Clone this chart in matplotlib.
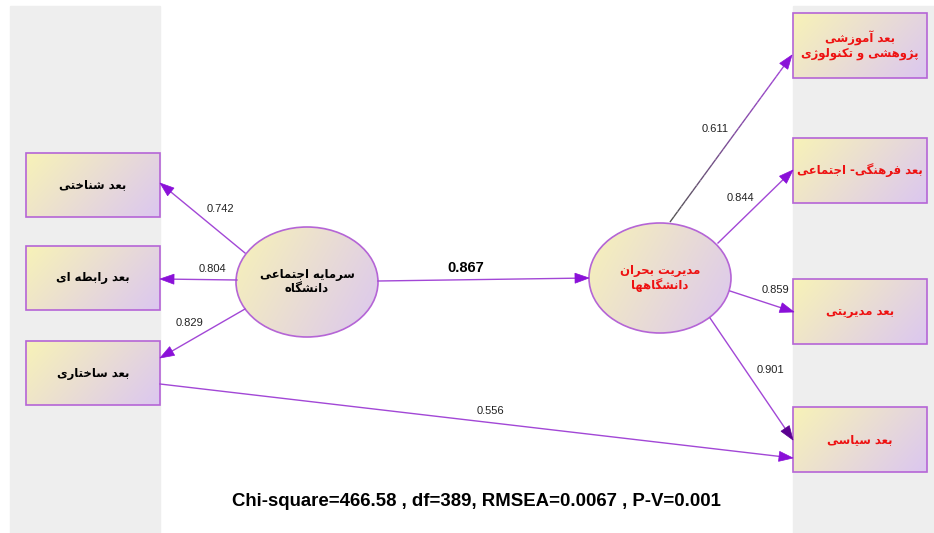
import numpy as np
import matplotlib
matplotlib.use('Agg')
import matplotlib.pyplot as plt
from matplotlib import font_manager
from matplotlib.patches import Rectangle, Ellipse, Polygon
from matplotlib.collections import LineCollection

# ---- data ----
left_items = ['بعد شناختی', 'بعد رابطه ای', 'بعد ساختاری']
left_loadings = [0.742, 0.804, 0.829]
right_items = ['بعد آموزشی\nپژوهشی و تکنولوژی', 'بعد فرهنگی- اجتماعی',
               'بعد مدیریتی', 'بعد سیاسی']
right_loadings = [0.611, 0.844, 0.859, 0.901]
latent_names = ['سرمایه اجتماعی\nدانشگاه', 'مدیریت بحران\nدانشگاهها']
path_coef = 0.867
cross_coef = 0.556
chi_square = 466.58
dof = 389
rmsea = 0.0067
p_value = 0.001

# ---- simple persian shaping (matplotlib has no bidi / joining) ----
# isolated, final, initial, medial
FORMS = {
    'ا': ('\uFE8D', '\uFE8E', None, None),
    'آ': ('\uFE81', '\uFE82', None, None),
    'ب': ('\uFE8F', '\uFE90', '\uFE91', '\uFE92'),
    'ت': ('\uFE95', '\uFE96', '\uFE97', '\uFE98'),
    'ج': ('\uFE9D', '\uFE9E', '\uFE9F', '\uFEA0'),
    'ح': ('\uFEA1', '\uFEA2', '\uFEA3', '\uFEA4'),
    'خ': ('\uFEA5', '\uFEA6', '\uFEA7', '\uFEA8'),
    'د': ('\uFEA9', '\uFEAA', None, None),
    'ر': ('\uFEAD', '\uFEAE', None, None),
    'ز': ('\uFEAF', '\uFEB0', None, None),
    'ژ': ('\uFB8A', '\uFB8B', None, None),
    'س': ('\uFEB1', '\uFEB2', '\uFEB3', '\uFEB4'),
    'ش': ('\uFEB5', '\uFEB6', '\uFEB7', '\uFEB8'),
    'ط': ('\uFEC1', '\uFEC2', '\uFEC3', '\uFEC4'),
    'ع': ('\uFEC9', '\uFECA', '\uFECB', '\uFECC'),
    'ف': ('\uFED1', '\uFED2', '\uFED3', '\uFED4'),
    'ل': ('\uFEDD', '\uFEDE', '\uFEDF', '\uFEE0'),
    'م': ('\uFEE1', '\uFEE2', '\uFEE3', '\uFEE4'),
    'ن': ('\uFEE5', '\uFEE6', '\uFEE7', '\uFEE8'),
    'ه': ('\uFEE9', '\uFEEA', '\uFEEB', '\uFEEC'),
    'و': ('\uFEED', '\uFEEE', None, None),
    'پ': ('\uFB56', '\uFB57', '\uFB58', '\uFB59'),
    'ک': ('\uFB8E', '\uFB8F', '\uFB90', '\uFB91'),
    'گ': ('\uFB92', '\uFB93', '\uFB94', '\uFB95'),
    'ی': ('\uFBFC', '\uFBFD', '\uFBFE', '\uFBFF'),
}


def shape_line(line):
    out = []
    for i, ch in enumerate(line):
        if ch not in FORMS:
            out.append(ch)
            continue
        f = FORMS[ch]
        prev = line[i - 1] if i > 0 else ''
        nxt = line[i + 1] if i < len(line) - 1 else ''
        jp = prev in FORMS and FORMS[prev][2] is not None
        jn = f[2] is not None and nxt in FORMS
        if jp and jn:
            out.append(f[3])
        elif jp:
            out.append(f[1])
        elif jn:
            out.append(f[2])
        else:
            out.append(f[0])
    return ''.join(out)[::-1]


def fa(text):
    return '\n'.join(shape_line(l) for l in text.split('\n'))


# ---- style ----
W, H = 934, 533
GRAY = '#eeeeee'
EDGE = '#b565d6'
LINE = '#a247d6'
HEAD = '#8a10d8'
C0 = np.array([0.97, 0.95, 0.72])
C1 = np.array([0.86, 0.78, 0.94])
installed = {f.name for f in font_manager.fontManager.ttflist}
FA_FONT = ['DejaVu Sans Condensed'] if 'DejaVu Sans Condensed' in installed else ['DejaVu Sans']
FA_SCALE = 1.0 if FA_FONT[0].endswith('Condensed') else 0.88
NUM_FONT = ['Liberation Sans', 'DejaVu Sans']

# ---- layout (pixels) ----
left_box = dict(x=26, w=134, h=64, tops=[153, 246, 341])
right_box = dict(x=793, w=134, h=65, tops=[13, 138, 279, 407])
lat_centers = [(307, 282), (660, 278)]
lat_size = (142, 110)
left_edges = [((245, 253), (160, 183), (220, 209)),
              ((237, 280), (160, 279), (212, 269)),
              ((245, 309), (160, 358), (190, 323))]
right_edges = [((670, 222), (792, 55), (715, 129)),
               ((718, 243), (793, 170), (740, 198)),
               ((730, 291), (794, 312), (775, 290)),
               ((710, 318), (793, 440), (770, 370))]
cross_edge = ((160, 384), (793, 458), (490, 411))
path_edge = ((378, 281), (589, 278), (466, 268))

fig = plt.figure(figsize=(W / 100, H / 100), dpi=100)
ax = fig.add_axes([0, 0, 1, 1])
ax.set_xlim(0, W)
ax.set_ylim(H, 0)
ax.axis('off')

ax.add_patch(Rectangle((10, 6), 150, H, color=GRAY, zorder=0))
ax.add_patch(Rectangle((793, 6), 141, H, color=GRAY, zorder=0))

grad_n = 60
u, v = np.meshgrid(np.linspace(0, 1, grad_n), np.linspace(0, 1, grad_n))
t = 0.7 * u + 0.3 * v
grad = C0[None, None, :] * (1 - t[..., None]) + C1[None, None, :] * t[..., None]


def patch_args(p):
    if isinstance(p, Rectangle):
        return (p.get_xy(), p.get_width(), p.get_height())
    return (p.center, p.width, p.height)


def gradient_patch(patch, x0, y0, w, h):
    ax.add_patch(patch)
    im = ax.imshow(grad, extent=(x0, x0 + w, y0 + h, y0), aspect='auto',
                   interpolation='bilinear', zorder=2)
    im.set_clip_path(patch)
    ax.add_patch(type(patch)(*patch_args(patch), fill=False, ec=EDGE, lw=1.2, zorder=3))


def arrow(p0, p1, color=LINE, head=HEAD, start_color=None):
    p0 = np.array(p0, float)
    p1 = np.array(p1, float)
    d = (p1 - p0) / np.hypot(*(p1 - p0))
    n = np.array([-d[1], d[0]])
    base = p1 - d * 14
    if start_color is None:
        ax.plot([p0[0], base[0]], [p0[1], base[1]], color=color, lw=1.0, zorder=4)
    else:
        k = 30
        pts = p0[None, :] + np.linspace(0, 1, k + 1)[:, None] * (base - p0)[None, :]
        segs = np.stack([pts[:-1], pts[1:]], axis=1)
        c0 = np.array(matplotlib.colors.to_rgb(start_color))
        c1 = np.array(matplotlib.colors.to_rgb(color))
        cols = [c0 * (1 - s) + c1 * s for s in np.linspace(0, 1, k)]
        ax.add_collection(LineCollection(segs, colors=cols, lw=1.0, zorder=4))
    ax.add_patch(Polygon([p1, base + n * 5, base - n * 5], closed=True,
                         fc=head, ec=head, lw=0.5, zorder=5))


# left indicator boxes
for name, top in zip(left_items, left_box['tops']):
    r = Rectangle((left_box['x'], top), left_box['w'], left_box['h'], lw=0)
    gradient_patch(r, left_box['x'], top, left_box['w'], left_box['h'])
    ax.text(left_box['x'] + left_box['w'] / 2, top + left_box['h'] / 2, fa(name),
            ha='center', va='center', fontsize=9.5 * FA_SCALE, fontweight='bold',
            family=FA_FONT, color='black', zorder=6)

# right indicator boxes
for name, top in zip(right_items, right_box['tops']):
    r = Rectangle((right_box['x'], top), right_box['w'], right_box['h'], lw=0)
    gradient_patch(r, right_box['x'], top, right_box['w'], right_box['h'])
    ax.text(right_box['x'] + right_box['w'] / 2, top + right_box['h'] / 2, fa(name),
            ha='center', va='center', fontsize=9.5 * FA_SCALE, fontweight='bold',
            family=FA_FONT, color='#ee1111', zorder=6, linespacing=1.15)

# latent variables
for (cx, cy), name, col in zip(lat_centers, latent_names, ['black', '#ee1111']):
    e = Ellipse((cx, cy), lat_size[0], lat_size[1], lw=0)
    gradient_patch(e, cx - lat_size[0] / 2, cy - lat_size[1] / 2, *lat_size)
    ax.text(cx, cy, fa(name), ha='center', va='center', fontsize=9.5 * FA_SCALE,
            fontweight='bold', family=FA_FONT, color=col, zorder=6, linespacing=1.15)

# loadings
for (p0, p1, lp), val in zip(left_edges, left_loadings):
    arrow(p0, p1)
    ax.text(*lp, f'{val:.3f}', ha='center', va='center', fontsize=8,
            family=NUM_FONT, color='#222222', zorder=6)

for i, ((p0, p1, lp), val) in enumerate(zip(right_edges, right_loadings)):
    if i == 0:
        arrow(p0, p1, start_color='#555555')
    elif i == 3:
        arrow(p0, p1, head='#5a0090')
    else:
        arrow(p0, p1)
    ax.text(*lp, f'{val:.3f}', ha='center', va='center', fontsize=8,
            family=NUM_FONT, color='#222222', zorder=6)

p0, p1, lp = cross_edge
arrow(p0, p1)
ax.text(*lp, f'{cross_coef:.3f}', ha='center', va='center', fontsize=8,
        family=NUM_FONT, color='#222222', zorder=6)

p0, p1, lp = path_edge
arrow(p0, p1)
ax.text(*lp, f'{path_coef:.3f}', ha='center', va='center', fontsize=10.5,
        fontweight='bold', family=NUM_FONT, color='black', zorder=6)

footer = f'Chi-square={chi_square} , df={dof}, RMSEA={rmsea} , P-V={p_value}'
ax.text(476, 501, footer, ha='center', va='center', fontsize=13.4,
        fontweight='bold', family=NUM_FONT, color='black', zorder=6)

fig.savefig('out.png', dpi=100)
